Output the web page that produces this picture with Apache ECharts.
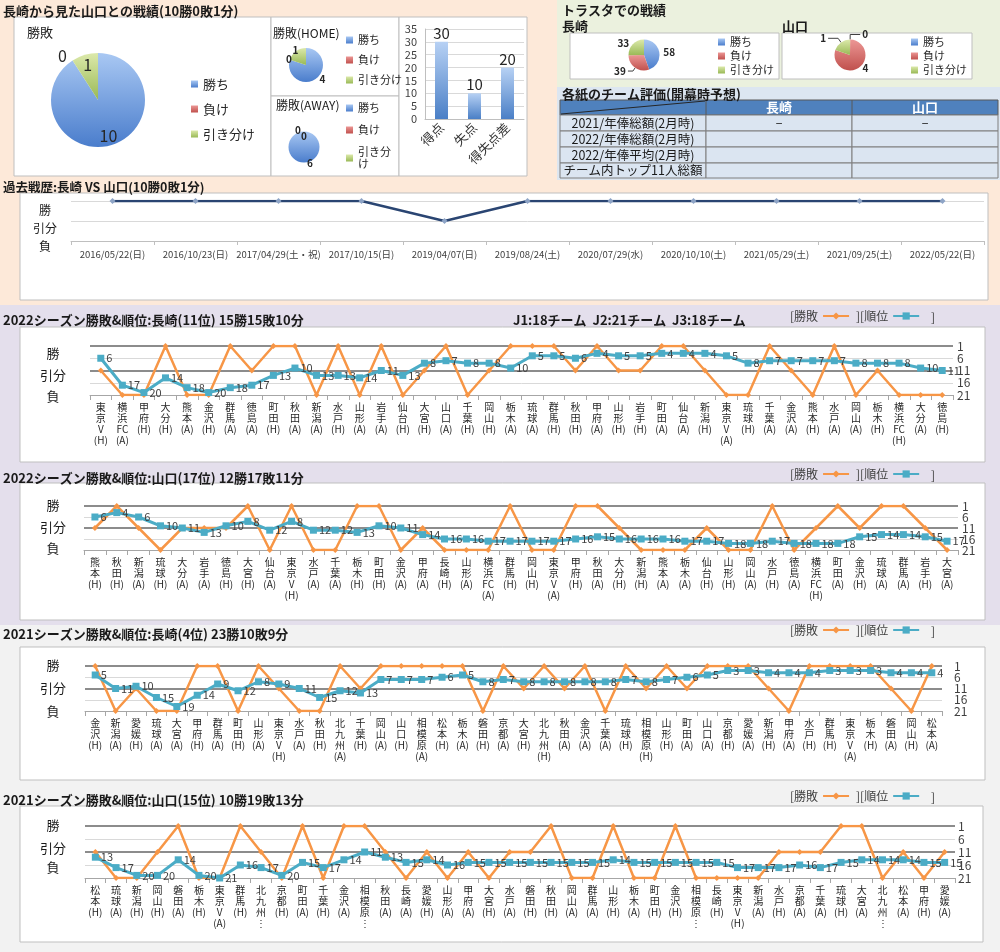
<!DOCTYPE html>
<html><head><meta charset="utf-8">
<script src="https://cdn.jsdelivr.net/npm/echarts@6/dist/echarts.min.js"></script>
<style>html,body{margin:0;padding:0;background:#fff}#c{width:1000px;height:952px}</style>
</head><body><div id="c"></div>
<script>
// ---------------- DATA ----------------
const pieNames = ['勝ち','負け','引き分け'];
const totalWLD = [10,0,1];
const homeWLD = [4,0,1];
const awayWLD = [6,0,0];
const trastaNagasaki = [58,39,33];
const trastaYamaguchi = [0,4,1];
const scoreCats = ['得点','失点','得失点差'];
const scoreVals = [30,10,20];

const tableRows = ['2021/年俸総額(2月時)','2022/年俸総額(2月時)','2022/年俸平均(2月時)','チーム内トップ11人総額'];
const tableCols = ['長崎','山口'];
const tableCells = [['−','−'],['',''],['',''],['','']];

const pastDates = ['2016/05/22(日)','2016/10/23(日)','2017/04/29(土・祝)','2017/10/15(日)','2019/04/07(日)','2019/08/24(土)','2020/07/29(水)','2020/10/10(土)','2021/05/29(土)','2021/09/25(土)','2022/05/22(日)'];
const pastRes = ['W','W','W','W','D','W','W','W','W','W','W'];

const cats22N = ['東京V(H)','横浜FC(A)','甲府(H)','大分(H)','熊本(A)','金沢(H)','群馬(A)','徳島(A)','町田(H)','秋田(A)','新潟(A)','水戸(H)','山形(A)','岩手(A)','仙台(H)','大宮(H)','山口(A)','千葉(H)','岡山(H)','栃木(A)','琉球(A)','群馬(H)','秋田(H)','甲府(A)','山形(H)','岩手(H)','町田(A)','仙台(A)','新潟(H)','東京V(A)','琉球(H)','千葉(A)','金沢(A)','熊本(H)','水戸(A)','岡山(A)','栃木(H)','横浜FC(H)','大分(A)','徳島(H)'];
const res22N = ['D','L','L','W','L','L','W','D','W','W','L','W','L','W','L','D','W','L','D','W','W','W','D','W','D','D','W','W','D','L','L','W','D','L','W','L','D','L','L','L'];
const rank22N = [6,17,20,14,18,20,18,17,13,10,13,13,14,11,13,8,7,8,8,10,5,5,6,4,5,5,4,4,4,5,8,7,7,7,7,8,8,8,10,11];

const cats22Y = ['熊本(H)','秋田(H)','新潟(A)','琉球(H)','大分(A)','岩手(A)','徳島(H)','大宮(H)','仙台(A)','東京V(H)','水戸(A)','千葉(A)','栃木(H)','町田(H)','金沢(A)','甲府(A)','長崎(H)','山形(A)','横浜FC(A)','群馬(H)','岡山(H)','東京V(A)','甲府(H)','秋田(A)','大分(H)','新潟(H)','熊本(A)','栃木(A)','仙台(H)','山形(H)','岡山(A)','水戸(H)','徳島(A)','横浜FC(H)','町田(A)','金沢(H)','琉球(A)','群馬(A)','岩手(H)','大宮(A)'];
const res22Y = ['D','W','D','L','D','D','D','W','L','W','L','L','W','W','L','D','L','L','L','W','L','L','W','W','D','L','L','L','D','L','L','W','L','D','W','D','W','W','D','L'];
const rank22Y = [6,4,6,10,11,13,10,8,12,8,12,12,13,10,11,14,16,16,17,17,17,17,16,15,16,16,16,17,17,18,18,17,18,18,18,15,14,14,15,17];

const cats21N = ['金沢(H)','新潟(A)','愛媛(H)','琉球(A)','大宮(A)','甲府(H)','群馬(A)','町田(H)','山形(A)','東京V(H)','水戸(A)','秋田(H)','北九州(A)','千葉(H)','岡山(A)','山口(H)','相模原(A)','松本(H)','栃木(A)','磐田(H)','京都(A)','大宮(H)','北九州(H)','秋田(A)','金沢(A)','千葉(A)','琉球(H)','相模原(H)','山形(H)','町田(A)','山口(A)','京都(H)','愛媛(A)','新潟(H)','甲府(A)','水戸(H)','群馬(H)','東京V(A)','栃木(H)','磐田(A)','岡山(H)','松本(A)'];
const res21N = ['W','L','D','L','L','W','W','L','W','D','L','L','W','D','W','W','W','W','W','L','W','D','W','D','W','L','W','D','W','D','W','W','W','D','L','W','W','W','W','D','L','W'];
const rank21N = [5,11,10,15,19,14,9,12,8,9,11,15,12,13,7,7,7,6,5,8,7,8,8,8,8,8,7,8,7,6,5,3,3,4,4,4,3,3,3,4,4,4];

const cats21Y = ['松本(H)','琉球(A)','新潟(H)','岡山(H)','磐田(A)','栃木(H)','東京V(A)','群馬(H)','北九州…','京都(H)','町田(A)','千葉(H)','金沢(A)','相模原…','秋田(A)','長崎(A)','愛媛(H)','山形(A)','甲府(A)','大宮(H)','水戸(A)','磐田(H)','秋田(H)','岡山(A)','群馬(A)','山形(H)','栃木(A)','町田(H)','金沢(H)','相模原…','長崎(H)','東京V(H)','新潟(A)','水戸(H)','京都(A)','千葉(A)','琉球(H)','大宮(A)','北九州…','松本(A)','甲府(H)','愛媛(A)'];
const res21Y = ['D','L','L','D','W','L','L','W','D','L','W','L','W','W','D','L','D','L','D','L','D','D','W','L','L','W','L','L','W','L','L','L','L','D','D','D','W','W','L','D','L','D'];
const rank21Y = [13,17,20,20,14,20,21,16,17,20,15,17,14,11,13,15,14,16,15,15,15,15,15,15,15,14,15,15,15,15,15,17,17,17,16,17,15,14,14,14,15,15];

const seasonTitles = ['2022シーズン勝敗&順位:長崎(11位) 15勝15敗10分','2022シーズン勝敗&順位:山口(17位) 12勝17敗11分','2021シーズン勝敗&順位:長崎(4位) 23勝10敗9分','2021シーズン勝敗&順位:山口(15位) 10勝19敗13分'];
const leagueNote = 'J1:18チーム  J2:21チーム  J3:18チーム';
const resultLabels = ['勝','引分','負'];

// ---------------- STYLE / LAYOUT ----------------
const FONT = '"Noto Sans CJK JP","Noto Sans",sans-serif';
const grad = (a,b)=>({type:'linear',x:0,y:0,x2:0,y2:1,colorStops:[{offset:0,color:a},{offset:1,color:b}]});
const PIE_COLORS = [grad('#a9c8f3','#4a7dcc'), grad('#ec9795','#c0504d'), grad('#dce9ab','#99b955')];
const resultToRank = {W:1,D:11,L:21};

const graphics = [];
function R(x,y,w,h,fill,stroke,z){graphics.push({type:'rect',silent:true,z:z===undefined?-90:z,shape:{x,y,width:w,height:h},style:{fill:fill,stroke:stroke||null,lineWidth:stroke?1:0}});}
function T(x,y,text,size,opt){opt=opt||{};graphics.push({type:'text',silent:true,z:50,x,y,style:{text,fontSize:size,fontFamily:FONT,fontWeight:opt.bold?'bold':'normal',fill:opt.color||'#1a1a1a',align:opt.align||'left',verticalAlign:'middle'}});}
function L(x1,y1,x2,y2,stroke,w,z){graphics.push({type:'line',silent:true,z:z===undefined?-80:z,shape:{x1,y1,x2,y2},style:{stroke,lineWidth:w||1}});}

// backgrounds
R(0,0,1000,305,'#fde9d9',null,-100);
R(557,0,443,87,'#ebf1de',null,-99);
R(557,87,443,93,'#dce6f1',null,-99);
R(0,305,1000,320,'#e4dfec',null,-100);
R(0,625,1000,327,'#f2f2f2',null,-100);
// boxes
const BOX='#bfbfbf';
R(14,17,257,159,'#fff',BOX);
R(271,17,128,79,'#fff',BOX);
R(271,96,128,80,'#fff',BOX);
R(399,17,128,159,'#fff',BOX);
R(570,33,209,46,'#fff',BOX);
R(782,33,190,46,'#fff',BOX);
R(20,193,968,107,'#fff',BOX);
R(20,327,965,135,'#fff',BOX);
R(20,483,965,137,'#fff',BOX);
R(20,647,965,133,'#fff',BOX);
R(20,806,963,136,'#fff',BOX);

// texts
T(3,11,'長崎から見た山口との戦績(10勝0敗1分)',13,{bold:true});
T(27,32,'勝敗',13);
T(273,33,'勝敗(HOME)',12);
T(276,105,'勝敗(AWAY)',12);
T(562,10,'トラスタでの戦績',13,{bold:true});
T(562,26,'長崎',13,{bold:true});
T(782,26,'山口',13,{bold:true});
T(562,94,'各紙のチーム評価(開幕時予想)',13,{bold:true});
T(3,187,'過去戦歴:長崎 VS 山口(10勝0敗1分)',12.5,{bold:true});
T(45,210,resultLabels[0],12,{align:'center'});
T(45,228,resultLabels[1],12,{align:'center'});
T(45,246,resultLabels[2],12,{align:'center'});

// table
const colX=[560,706,852,998], rowY=[100,115,131,147,163,178];
R(560,100,438,15,'#4f81bd','#595959',-85);
L(706,100,706,115,'#595959',1,-84); L(852,100,852,115,'#595959',1,-84);
L(561,114,705,101,'#262626',1,-83);
T(779,107.5,tableCols[0],13,{bold:true,color:'#fff',align:'center'});
T(925,107.5,tableCols[1],13,{bold:true,color:'#fff',align:'center'});
for(let i=0;i<tableRows.length;i++){
  const y=rowY[i+1], h=rowY[i+2]-rowY[i+1];
  for(let j=0;j<3;j++) R(colX[j],y,colX[j+1]-colX[j],h,'#dbe5f1','#7f7f7f',-85);
  T(633,y+h/2,tableRows[i],12.5,{align:'center'});
  T(779,y+h/2,tableCells[i][0],12,{align:'center'});
  T(925,y+h/2,tableCells[i][1],12,{align:'center'});
}

// season layouts
const seasons = [
  {cats:cats22N,res:res22N,rank:rank22N,grid:{left:90,top:346,width:863,height:49},rm:4,ty:320,lab:[353,375,396]},
  {cats:cats22Y,res:res22Y,rank:rank22Y,grid:{left:84,top:506,width:874,height:44},rm:4,ty:478,lab:[505,527,548]},
  {cats:cats21N,res:res21N,rank:rank21N,grid:{left:85,top:666,width:857,height:45},rm:12,ty:634,lab:[665,688,711]},
  {cats:cats21Y,res:res21Y,rank:rank21Y,grid:{left:85,top:826,width:870,height:52},rm:3,ty:800,lab:[825,848,867]}
];
seasons.forEach((s,k)=>{
  T(3,s.ty,seasonTitles[k],13,{bold:true});
  s.lab.forEach((y,i)=>T(53,y,resultLabels[i],13,{align:'center'}));
  T(931,s.ty-3,']',12,{color:'#404040'});
});
T(513,320,leagueNote,13,{bold:true});

function vert(s){
  const m = s.match(/\([A-Z]\)|[A-Za-z]+|./g) || [];
  return m.map(t=>t==='…'?'⋮':t).join('\n');
}

// ---------------- OPTION ----------------
const grids=[], xAxis=[], yAxis=[], series=[], legends=[];

// bar chart
grids.push({left:425,top:29,width:99,height:90});
xAxis.push({gridIndex:0,type:'category',data:scoreCats,axisTick:{show:false},axisLine:{lineStyle:{color:'#bfbfbf'}},
  axisLabel:{interval:0,rotate:45,fontSize:13,color:'#333',fontFamily:FONT,margin:6}});
yAxis.push({gridIndex:0,type:'value',min:0,max:35,interval:5,axisLine:{show:true,lineStyle:{color:'#bfbfbf'}},axisTick:{show:false},
  axisLabel:{fontSize:11,color:'#404040',margin:8},splitLine:{lineStyle:{color:'#d9d9d9'}}});
series.push({type:'bar',xAxisIndex:0,yAxisIndex:0,data:scoreVals,barWidth:13,
  itemStyle:{color:grad('#b7d1f4','#4a7fc6')},label:{show:true,position:'top',fontSize:15,color:'#262626',distance:1}});

// past record
grids.push({left:71,top:201,width:913,height:40});
xAxis.push({gridIndex:1,type:'category',data:pastDates,axisLine:{onZero:false,lineStyle:{color:'#bfbfbf'}},axisTick:{show:true,length:4,lineStyle:{color:'#bfbfbf'}},
  axisLabel:{interval:0,fontSize:9.5,color:'#404040',fontFamily:FONT,margin:9}});
yAxis.push({gridIndex:1,type:'value',min:1,max:3,interval:1,axisLine:{show:false},axisTick:{show:false},axisLabel:{show:false},splitLine:{lineStyle:{color:'#d9d9d9'}}});
series.push({type:'line',xAxisIndex:1,yAxisIndex:1,data:pastRes.map(r=>({W:3,D:2,L:1})[r]),symbol:'diamond',symbolSize:6,
  lineStyle:{color:'#2a4572',width:2.5},itemStyle:{color:'#8ea4c6'}});

// seasons
seasons.forEach((s,k)=>{
  const gi=grids.length;
  grids.push(s.grid);
  xAxis.push({gridIndex:gi,type:'category',data:s.cats,boundaryGap:true,
    axisLine:{onZero:false,lineStyle:{color:'#a6a6a6'}},axisTick:{show:true,length:5,lineStyle:{color:'#a6a6a6'}},
    axisLabel:{interval:0,formatter:vert,fontSize:10,lineHeight:11,color:'#262626',fontFamily:FONT,margin:7,verticalAlign:'top'}});
  const yi=yAxis.length;
  // fine grid (1,6,11,16,21) — shows labels 6 and 16
  yAxis.push({gridIndex:gi,type:'value',min:1,max:21,interval:5,inverse:true,position:'right',offset:0,
    axisLine:{show:false},axisTick:{show:false},
    axisLabel:{fontSize:12,color:'#404040',margin:s.rm,showMinLabel:true,showMaxLabel:true,formatter:v=>(v===6||v===16)?String(v):''},
    splitLine:{lineStyle:{color:'#d9d9d9'}}});
  // coarse grid (1,11,21) — thick lines at 1 and 11, labels 1/11/21
  yAxis.push({gridIndex:gi,type:'value',min:1,max:21,interval:10,inverse:true,position:'right',offset:0,
    axisLine:{show:false},axisTick:{show:false},
    axisLabel:{fontSize:12,color:'#404040',margin:s.rm,showMinLabel:true,showMaxLabel:true},
    splitLine:{lineStyle:{color:['#8c8c8c','#8c8c8c','rgba(0,0,0,0)'],width:2}}});
  series.push({name:'勝敗',type:'line',xAxisIndex:gi,yAxisIndex:yi,data:s.res.map(r=>resultToRank[r]),
    symbol:'diamond',symbolSize:6,lineStyle:{color:'#f79646',width:2.5},itemStyle:{color:'#f79646'},z:3});
  series.push({name:'順位',type:'line',xAxisIndex:gi,yAxisIndex:yi,data:s.rank,
    symbol:'rect',symbolSize:7,lineStyle:{color:'#4bacc6',width:3},itemStyle:{color:'#4bacc6'},z:4,
    label:{show:true,position:'right',distance:2,fontSize:11,color:'#404040',fontFamily:FONT}});
  legends.push({left:790,top:s.ty-10,padding:0,align:'right',itemWidth:26,itemHeight:9,itemGap:6,selectedMode:false,
    data:['勝敗','順位'],formatter:n=>n==='勝敗'?'[勝敗':'][順位',textStyle:{fontSize:12,color:'#404040',fontFamily:FONT}});
});

// pies
function pie(center,r,vals,fs,bold,outside,inside,innerR,lines,start){
  const base={fontSize:fs,fontWeight:bold?'bold':'normal',color:'#262626',fontFamily:FONT};
  const sa = start===undefined?90:start;
  series.push({type:'pie',center,radius:r,startAngle:sa,clockwise:true,avoidLabelOverlap:false,silent:true,
    data:vals.map((v,i)=>{
      const o=outside.includes(i);
      const ln=lines&&lines[i];
      const hid=lines&&lines['h'+i];
      return {name:pieNames[i],value:v,itemStyle:{color:PIE_COLORS[i]},
        label:Object.assign({show:o,position:'outside',formatter:'{c}',distanceToLabelLine:2},base),
        labelLine:{show:!!ln,length:ln?ln[0]:(hid?hid[0]:1),length2:ln?ln[1]:(hid?hid[1]:1),lineStyle:{color:'#404040',width:1}}};
    })});
  if(inside.length){
    series.push({type:'pie',center,radius:innerR,startAngle:sa,clockwise:true,silent:true,avoidLabelOverlap:false,
      itemStyle:{color:'rgba(0,0,0,0)'},labelLine:{show:false},
      data:vals.map((v,i)=>({name:pieNames[i],value:v,label:Object.assign({show:inside.includes(i),position:'inside',formatter:'{c}'},base)}))});
  }
}
pie([98,100],47,totalWLD,16,false,[1],[0,2],68,{h1:[5,1]});
pie([306,65],17,homeWLD,10,true,[0],[1,2],30,null);
pie([304,147],15.5,awayWLD,10,true,[0,1],[2],15.5,null);
pie([644,55],15.5,trastaNagasaki,10,true,[0,1,2],[],0,{1:[4,5]});
pie([850,55],15.5,trastaYamaguchi,10,true,[0,1,2],[],0,{0:[5,10],2:[5,10]},89.5);

function pieLegend(left,top,fs,gap,fmt){
  return {left,top,padding:0,orient:'vertical',icon:'rect',itemWidth:7,itemHeight:7,itemGap:gap,selectedMode:false,
    data:pieNames,formatter:fmt||(n=>n),textStyle:{fontSize:fs,lineHeight:fs+1,color:'#262626',fontFamily:FONT}};
}
legends.push(pieLegend(191,77,13,11));
legends.push(pieLegend(346,34,11,8));
legends.push(pieLegend(346,102,11,10,n=>n==='引き分け'?'引き分\nけ':n));
legends.push(pieLegend(718,36,11,2));
legends.push(pieLegend(911,36,11,2));

const chart = echarts.init(document.getElementById('c'));
chart.setOption({
  animation:false,
  textStyle:{fontFamily:FONT},
  grid:grids, xAxis, yAxis, series, legend:legends,
  graphic:{elements:graphics}
});
</script></body></html>
